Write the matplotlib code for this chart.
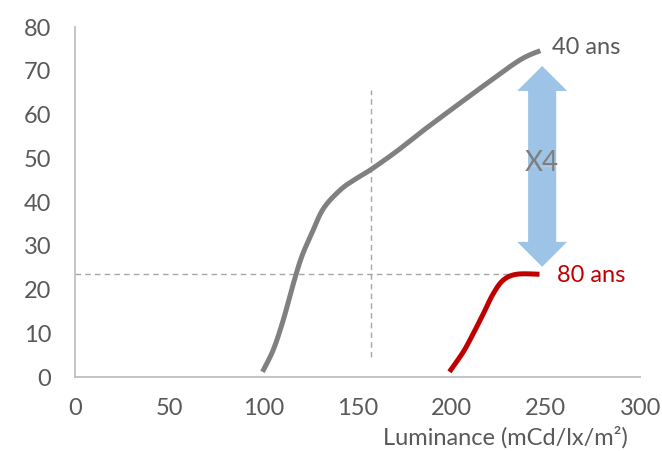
import matplotlib
matplotlib.use("Agg")
import numpy as np
import matplotlib.pyplot as plt
from matplotlib.patches import FancyArrow

plt.rcParams['font.family'] = ['Lato', 'DejaVu Sans']

# Luminance response curves by age
lum_40 = [99.6, 105.3, 110.6, 116.0, 120.4, 125.7, 131.9, 140.7, 148.0, 156.7,
          170.8, 183.2, 200.9, 218.6, 236.3, 247.0]
val_40 = [1.2, 6.2, 13.0, 21.4, 27.5, 32.8, 38.5, 42.7, 45.0, 47.3,
          51.6, 55.8, 61.5, 67.1, 72.5, 74.6]

lum_80 = [198.8, 206.2, 211.5, 216.8, 222.1, 227.5, 234.6, 246.6]
val_80 = [1.2, 5.8, 10.0, 14.5, 19.1, 22.2, 23.5, 23.5]

label_40 = "40 ans"
label_80 = "80 ans"
ratio_label = "X4"
x_label = "Luminance (mCd/lx/m²)"

x_ticks = [0, 50, 100, 150, 200, 250, 300]
y_ticks = [0, 10, 20, 30, 40, 50, 60, 70, 80]

ref_level = 23.5      # plateau of the 80-year curve
ref_lum = 157         # luminance marker
ref_lum_span = (4.6, 65.6)
arrow_x = 248
arrow_span = (25.2, 71.1)


def smooth(xs, ys, steps=12):
    """Smoothed line through the points (Catmull-Rom segments)."""
    p = np.column_stack([xs, ys]).astype(float)
    p = np.vstack([p[0], p, p[-1]])
    t = np.linspace(0, 1, steps, endpoint=False)[:, None]
    out = []
    for i in range(1, len(p) - 2):
        p0, p1, p2, p3 = p[i - 1], p[i], p[i + 1], p[i + 2]
        seg = 0.5 * ((2 * p1) + (-p0 + p2) * t
                     + (2 * p0 - 5 * p1 + 4 * p2 - p3) * t ** 2
                     + (-p0 + 3 * p1 - 3 * p2 + p3) * t ** 3)
        out.append(seg)
    out.append(p[-2][None, :])
    out = np.vstack(out)
    return out[:, 0], out[:, 1]


fig = plt.figure(figsize=(6.62, 4.51), dpi=100)
ax = fig.add_axes([0.113, 0.164, 0.854, 0.776])

ax.set_xlim(0, 300)
ax.set_ylim(0, 80)

# reference dashed guides
ax.plot([0, 247], [ref_level, ref_level], color="#A6A6A6", lw=1.0,
        dashes=(4, 3), zorder=1, clip_on=False)
ax.plot([ref_lum, ref_lum], ref_lum_span, color="#A6A6A6", lw=1.0,
        dashes=(4, 3), zorder=1)

ax.plot(*smooth(lum_40, val_40), color="#808080", lw=3.6,
        solid_capstyle="butt", zorder=3)
ax.plot(*smooth(lum_80, val_80), color="#C00000", lw=3.6,
        solid_capstyle="butt", zorder=3)

# double-headed ratio arrow
mid = (arrow_span[0] + arrow_span[1]) / 2
for end in arrow_span:
    ax.add_patch(FancyArrow(arrow_x, mid, 0, end - mid, width=14.9,
                            head_width=26.5, head_length=5.7,
                            length_includes_head=True, color="#9DC3E6",
                            lw=0, zorder=2))
ax.text(arrow_x, mid + 0.8, ratio_label, color="#7F7F7F", fontsize=20,
        ha="center", va="center", zorder=4)

ax.text(253.3, 75.4, label_40, color="#595959", fontsize=17,
        ha="left", va="center")
ax.text(256, 23.2, label_80, color="#C00000", fontsize=17,
        ha="left", va="center")

ax.set_xticks(x_ticks)
ax.set_yticks(y_ticks)
ax.tick_params(axis="both", length=0, labelsize=17, labelcolor="#595959")
ax.tick_params(axis="x", pad=15)
ax.tick_params(axis="y", pad=17)

for side in ("top", "right"):
    ax.spines[side].set_visible(False)
for side in ("left", "bottom"):
    ax.spines[side].set_color("#BFBFBF")
    ax.spines[side].set_linewidth(1.3)

fig.text(0.949, 0.031, x_label, color="#595959", fontsize=17,
         ha="right", va="center")

fig.savefig("out.png", dpi=100)
